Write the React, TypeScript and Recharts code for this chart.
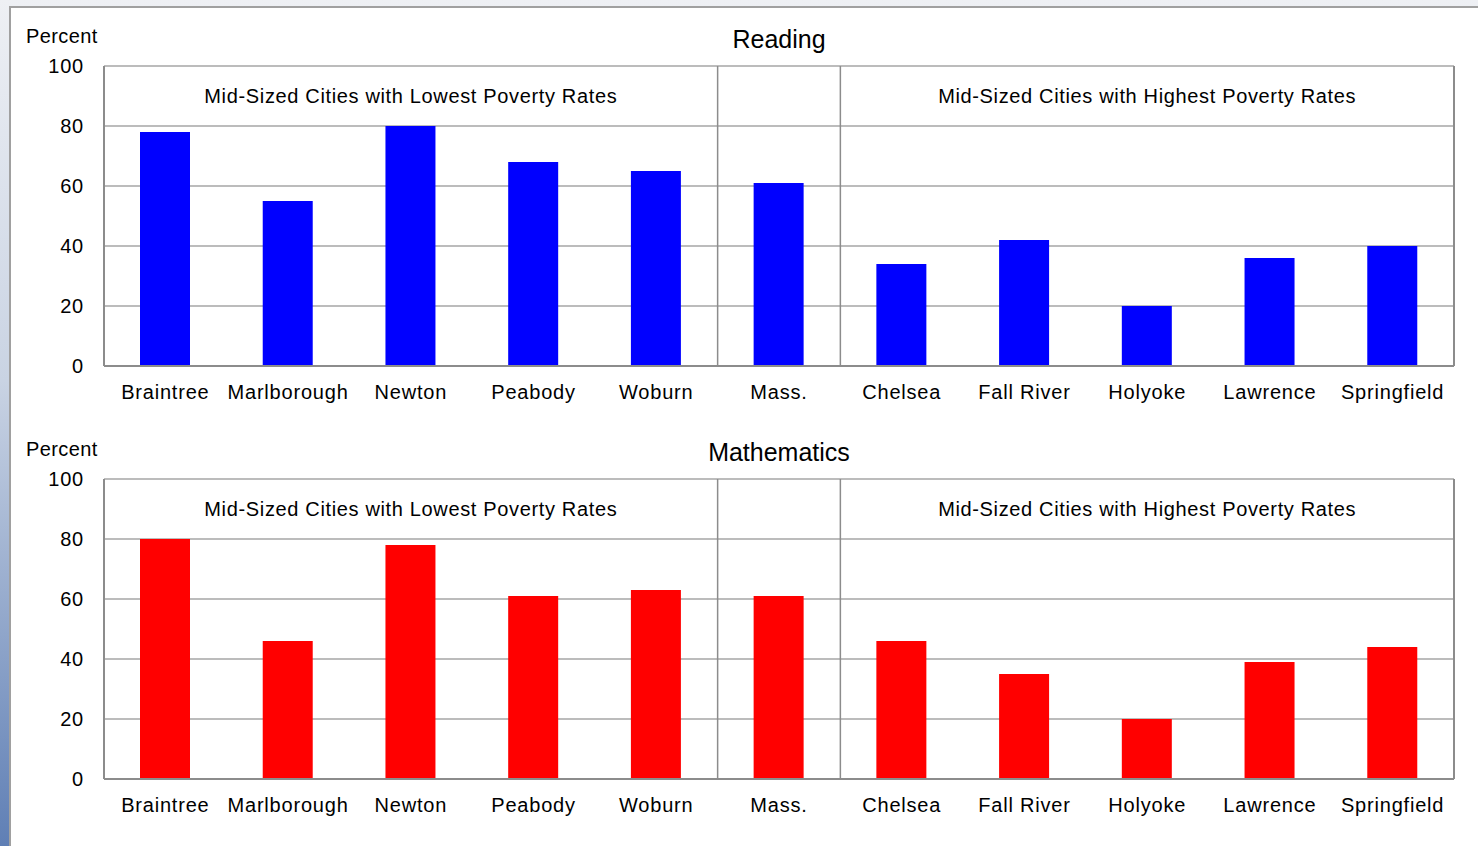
import React from 'react';
import { BarChart, Bar, XAxis, YAxis, CartesianGrid, ReferenceLine, ReferenceDot } from 'recharts';

const cities = ['Braintree', 'Marlborough', 'Newton', 'Peabody', 'Woburn', 'Mass.', 'Chelsea', 'Fall River', 'Holyoke', 'Lawrence', 'Springfield'];
const reading = [78, 55, 80, 68, 65, 61, 34, 42, 20, 36, 40];
const mathematics = [80, 46, 78, 61, 63, 61, 46, 35, 20, 39, 44];
const yTicks = [0, 20, 40, 60, 80, 100];
const lowGroup = { label: 'Mid-Sized Cities with Lowest Poverty Rates', center: 'Newton' };
const highGroup = { label: 'Mid-Sized Cities with Highest Poverty Rates', center: 'Holyoke' };

const FONT = '"Liberation Sans", Arial, sans-serif';
const GRID = '#a6a6a6';
const AXIS = '#8c8c8c';

const Panel = ({ title, values, color, top }: { title: string; values: number[]; color: string; top: number }) => {
  const data = cities.map((c, i) => ({ city: c, value: values[i] }));
  const tick = { fill: '#000', fontSize: 20, fontFamily: FONT, letterSpacing: 0.8 };
  const groupLabel = (text: string) => ({ value: text, position: 'center' as const, fill: '#000', fontSize: 20, fontFamily: FONT, letterSpacing: 0.65 });
  return (
    <div style={{ position: 'absolute', left: 0, top, width: 1478, height: 420 }}>
      <div style={{ position: 'absolute', left: 26, top: 25, fontSize: 20, fontFamily: FONT, letterSpacing: 0.4 }}>Percent</div>
      <div style={{ position: 'absolute', left: 104, width: 1350, top: 25, textAlign: 'center', fontSize: 25, fontFamily: FONT }}>{title}</div>
      <BarChart width={1478} height={420} data={data} margin={{ top: 66, right: 24, left: 0, bottom: 0 }} barSize={50}>
        <CartesianGrid vertical={false} stroke={GRID} strokeWidth={1.5} />
        <XAxis dataKey="city" height={54} tickLine={false} tickSize={17} tickMargin={2} axisLine={{ stroke: AXIS, strokeWidth: 2 }} tick={tick} interval={0} />
        <YAxis width={104} domain={[0, 100]} ticks={yTicks} tickLine={false} tickSize={18} tickMargin={2} axisLine={{ stroke: AXIS, strokeWidth: 2 }} tick={tick} />
        <ReferenceLine x="Mass." position="start" stroke={AXIS} strokeWidth={1.5} />
        <ReferenceLine x="Chelsea" position="start" stroke={AXIS} strokeWidth={1.5} />
        <ReferenceLine x="Springfield" position="end" stroke={AXIS} strokeWidth={2} />
        <ReferenceDot x={lowGroup.center} y={90} r={0} stroke="none" fill="none" label={groupLabel(lowGroup.label)} />
        <ReferenceDot x={highGroup.center} y={90} r={0} stroke="none" fill="none" label={groupLabel(highGroup.label)} />
        <Bar dataKey="value" fill={color} isAnimationActive={false} />
      </BarChart>
    </div>
  );
};

export default function App() {
  return (
    <div style={{ position: 'absolute', left: 0, top: 0, width: 1478, height: 846, overflow: 'hidden', background: 'linear-gradient(180deg, #eef0f4 0%, #c9d3e3 45%, #5f7fb5 100%)' }}>
      <div style={{ position: 'absolute', left: 9, top: 6, width: 1480, height: 860, background: '#fff', borderLeft: '2px solid #a0a0a0', borderTop: '2px solid #a0a0a0', boxSizing: 'border-box' }} />
      <Panel title="Reading" values={reading} color="#0000ff" top={0} />
      <Panel title="Mathematics" values={mathematics} color="#ff0000" top={413} />
    </div>
  );
}
